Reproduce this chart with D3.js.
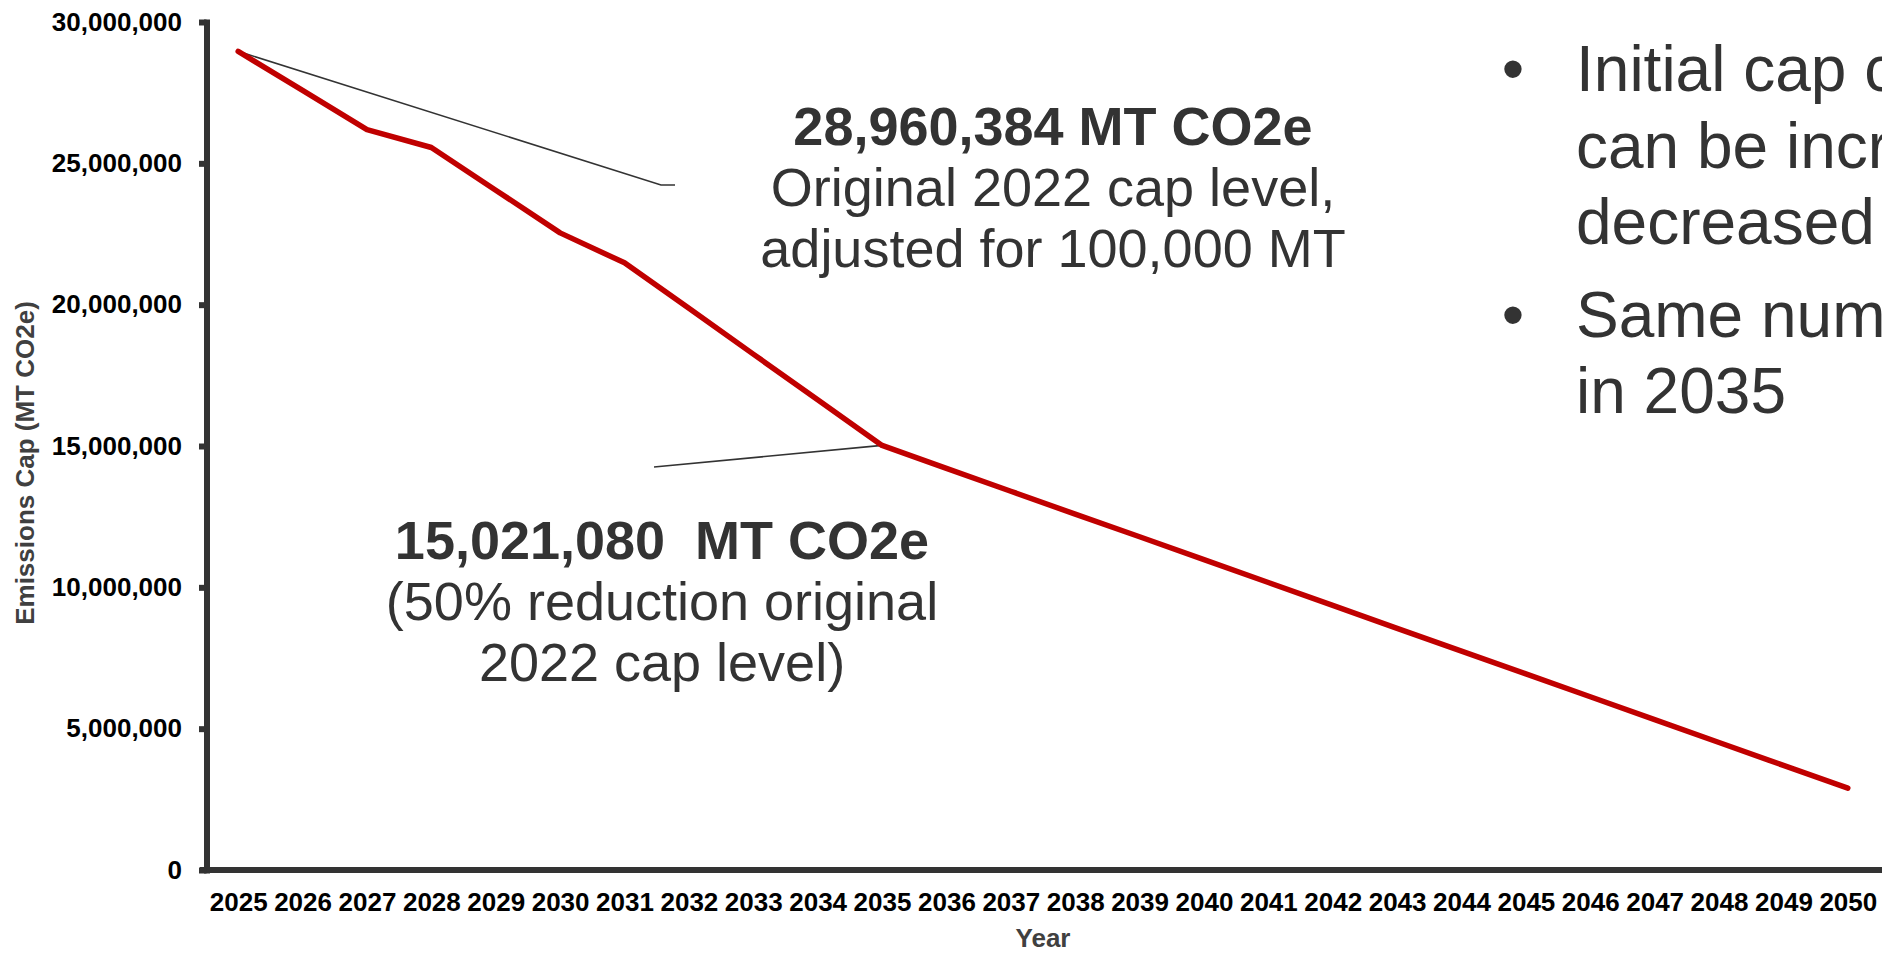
<!DOCTYPE html>
<html>
<head>
<meta charset="utf-8">
<script src="https://cdn.jsdelivr.net/npm/d3@7"></script>
<style>
  body { margin: 0; background: #fff; overflow: hidden; }
  svg { display: block; font-family: "Liberation Sans", Arial, sans-serif; }
</style>
</head>
<body>
<div id="main"></div>
<script>
var WIDTH = 1882
var HEIGHT = 954

// data
var years = ['2025', '2026', '2027', '2028', '2029', '2030', '2031', '2032', '2033',
    '2034', '2035', '2036', '2037', '2038', '2039', '2040', '2041', '2042', '2043',
    '2044', '2045', '2046', '2047', '2048', '2049', '2050']
var capValues = [28960384, 27580000, 26190000, 25560000, 24050000, 22540000, 21480000,
    19870000, 18250000, 16640000, 15021080, 14210000, 13400000, 12590000, 11790000,
    10980000, 10170000, 9360000, 8550000, 7740000, 6940000, 6130000, 5320000,
    4510000, 3700000, 2896038]
var yTicks = [0, 5000000, 10000000, 15000000, 20000000, 25000000, 30000000]

var noteTop = ['28,960,384 MT CO2e', 'Original 2022 cap level,', 'adjusted for 100,000 MT']
var noteBottom = ['15,021,080  MT CO2e', '(50% reduction original', '2022 cap level)']
var bullets = [['Initial cap could', 'can be increased or', 'decreased'], ['Same number', 'in 2035']]

var svg = d3.select('#main').append('svg')
    .attr('width', WIDTH)
    .attr('height', HEIGHT)

var x = d3.scalePoint().domain(years).range([206, 1880]).padding(0.5)
var y = d3.scaleLinear().domain([0, 30000000]).range([870, 22])

// x axis
var gx = svg.append('g')
    .attr('transform', 'translate(0,870)')
    .call(d3.axisBottom(x).tickSize(0).tickPadding(23).tickSizeOuter(0))
gx.select('.domain').remove()
gx.append('line')
    .attr('x1', 200).attr('x2', WIDTH)
    .attr('stroke', '#333').attr('stroke-width', 6)
gx.selectAll('text')
    .attr('font-size', 26).attr('font-weight', 'bold').attr('fill', '#000')
    .attr('font-family', '"Liberation Sans", Arial, sans-serif')

// y axis
var gy = svg.append('g')
    .attr('transform', 'translate(206.5,0)')
    .call(d3.axisLeft(y).tickValues(yTicks).tickFormat(d3.format(','))
        .tickSize(7.5).tickPadding(17).tickSizeOuter(0))
gy.select('.domain')
    .attr('stroke', '#333').attr('stroke-width', 6).attr('stroke-linecap', 'square')
gy.selectAll('.tick line')
    .attr('stroke', '#333').attr('stroke-width', 6)
gy.selectAll('text')
    .attr('font-size', 26).attr('font-weight', 'bold').attr('fill', '#000')
    .attr('font-family', '"Liberation Sans", Arial, sans-serif')

// axis titles
svg.append('text')
    .attr('transform', 'translate(34,463) rotate(-90)')
    .attr('text-anchor', 'middle')
    .attr('font-size', 26).attr('font-weight', 'bold').attr('fill', '#404040')
    .text('Emissions Cap (MT CO2e)')
svg.append('text')
    .attr('x', 1043).attr('y', 947)
    .attr('text-anchor', 'middle')
    .attr('font-size', 26).attr('font-weight', 'bold').attr('fill', '#404040')
    .text('Year')

// leader lines for the notes
var p25 = [x('2025'), y(capValues[0])]
var p35 = [x('2035'), y(capValues[10])]
svg.append('polyline')
    .attr('points', [p25, [661, 185], [675, 185]].join(' '))
    .attr('fill', 'none').attr('stroke', '#333').attr('stroke-width', 1.6)
svg.append('line')
    .attr('x1', p35[0]).attr('y1', p35[1]).attr('x2', 654).attr('y2', 467)
    .attr('stroke', '#333').attr('stroke-width', 1.6)

// the cap line
var line = d3.line()
    .x((d, i) => x(years[i]))
    .y(d => y(d))
svg.append('path')
    .datum(capValues)
    .attr('d', line)
    .attr('fill', 'none')
    .attr('stroke', '#c00000')
    .attr('stroke-width', 5.5)
    .attr('stroke-linejoin', 'round')
    .attr('stroke-linecap', 'round')

// notes
function note(lines, cx, baseY) {
    var t = svg.append('text')
        .attr('text-anchor', 'middle')
        .attr('fill', '#333')
        .attr('font-size', 54)
        .style('white-space', 'pre')
    lines.forEach(function (s, i) {
        t.append('tspan')
            .attr('x', cx)
            .attr('y', baseY + i * 61)
            .attr('font-weight', i == 0 ? 'bold' : 'normal')
            .text(s)
    })
}
note(noteTop, 1053, 145)
note(noteBottom, 662, 559)

// bullets on the right, cut by the page edge
var lineY = 91
bullets.forEach(function (b, k) {
    if (k > 0) lineY += 16
    svg.append('text')
        .attr('x', 1513).attr('y', lineY)
        .attr('text-anchor', 'middle')
        .attr('font-size', 64).attr('fill', '#333')
        .text('\u2022')
    b.forEach(function (s) {
        svg.append('text')
            .attr('x', 1576).attr('y', lineY)
            .attr('font-size', 64).attr('fill', '#333')
            .text(s)
        lineY += 76.5
    })
})
</script>
</body>
</html>
